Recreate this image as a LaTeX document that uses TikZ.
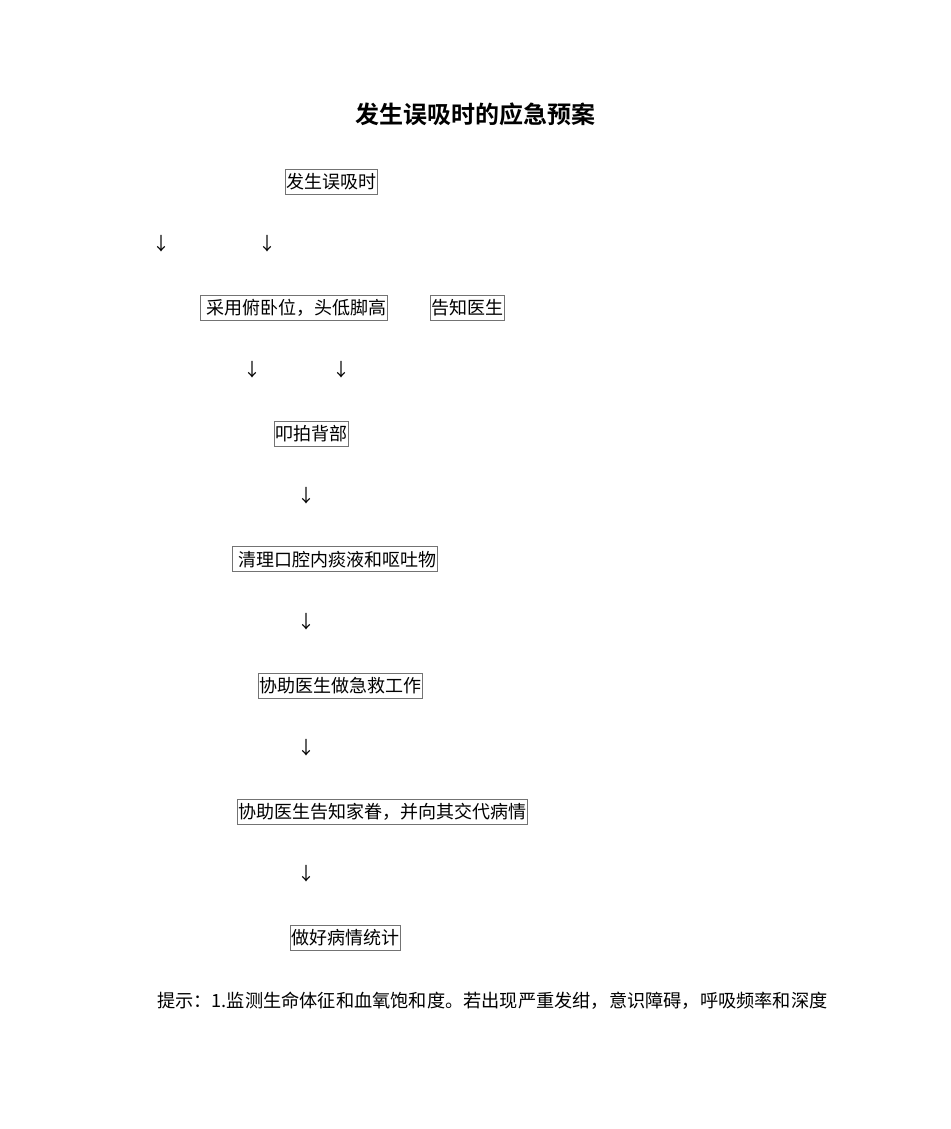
\documentclass[tikz,border=0pt]{standalone}
\usepackage{fontspec}
\setmainfont{Noto Sans CJK SC}
\newfontfamily\titlefont{Noto Sans CJK SC Bold}
\begin{document}
\begin{tikzpicture}[x=1pt, y=-1pt,
    box/.style={draw=black!55, line width=0.6pt, anchor=west, inner xsep=1pt, inner ysep=3.5pt,
                text height=16pt, text depth=2pt, font=\fontsize{18}{18}\selectfont},
    down/.style={font=\fontsize{18}{18}\selectfont, inner sep=0pt}]
        \useasboundingbox (0, 0) rectangle (950, 1129);
        \node[font=\fontsize{24}{24}\titlefont] (title) at (475, 114) {发生误吸时的应急预案};
        \node[box] (start) at (285, 181.5) {发生误吸时};
        \node[down] (a1) at (161, 244) {↓};
        \node[down] (a2) at (267, 244) {↓};
        \node[box] (posture) at (200, 307.5) {\hspace{5pt}采用俯卧位，头低脚高};
        \node[box] (notify) at (430, 307.5) {告知医生};
        \node[down] (a3) at (252, 370) {↓};
        \node[down] (a4) at (341, 370) {↓};
        \node[box] (pat) at (274, 433.5) {叩拍背部};
        \node[down] (a5) at (306, 496) {↓};
        \node[box] (clear) at (232, 559) {\hspace{5pt}清理口腔内痰液和呕吐物};
        \node[down] (a6) at (306, 622) {↓};
        \node[box] (assist) at (258, 685.5) {协助医生做急救工作};
        \node[down] (a7) at (306, 748) {↓};
        \node[box] (family) at (237, 811.5) {协助医生告知家眷，并向其交代病情};
        \node[down] (a8) at (306, 874) {↓};
        \node[box] (record) at (290, 937.5) {做好病情统计};
        \node[anchor=west, inner sep=0pt, font=\fontsize{18.2}{18.2}\selectfont] (tip) at (157, 1000.5)
            {提示：1.监测生命体征和血氧饱和度。若出现严重发绀，意识障碍，呼吸频率和深度};
    \end{tikzpicture}
\end{document}
